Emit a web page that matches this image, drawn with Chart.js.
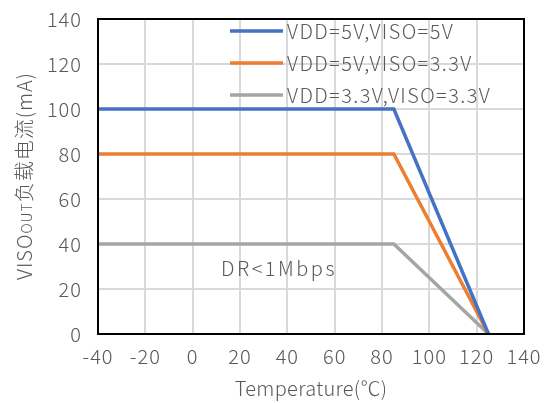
<!DOCTYPE html>
<html>
<head>
<meta charset="utf-8">
<script src="https://cdn.jsdelivr.net/npm/chart.js@4/dist/chart.umd.min.js"></script>
<style>
  html, body { margin: 0; padding: 0; background: #fff; }
  #wrap { width: 555px; height: 403px; }
</style>
</head>
<body>
<div id="wrap"><canvas id="chartCorriente"></canvas></div>
<script>
// datos
const temps = [-40, 85, 125];
const serieLabels = ['VDD=5V,VISO=5V', 'VDD=5V,VISO=3.3V', 'VDD=3.3V,VISO=3.3V'];
const serie5v5v = [100, 100, 0];
const serie5v33v = [80, 80, 0];
const serie33v33v = [40, 40, 0];
const serieColors = ['#4472C4', '#ED7D31', '#A5A5A5'];
const xTicks = [-40, -20, 0, 20, 40, 60, 80, 100, 120, 140];
const yTicks = [0, 20, 40, 60, 80, 100, 120, 140];

const textColor = '#595959';
const fontNum = '"Noto Sans CJK SC", "Noto Sans", sans-serif';

function toPoints(vals) {
  return temps.map((t, i) => ({ x: t, y: vals[i] }));
}

// marco negro, leyenda, nota y títulos de ejes
const extras = {
  id: 'extras',
  beforeDraw(chart) {
    // espaciado de letras para las etiquetas de los ejes
    chart.ctx.letterSpacing = '1px';
  },
  afterDraw(chart) {
    const ctx = chart.ctx;
    const a = chart.chartArea;
    const xs = chart.scales.x, ys = chart.scales.y;
    ctx.save();
    ctx.strokeStyle = '#000';
    ctx.lineWidth = 2;
    ctx.strokeRect(a.left, a.top, a.right - a.left, a.bottom - a.top);

    // leyenda
    ctx.font = '300 20px ' + fontNum;
    ctx.letterSpacing = '1.4px';
    ctx.textBaseline = 'middle';
    ctx.textAlign = 'left';
    chart.data.datasets.forEach((ds, i) => {
      const y = 31 + i * 32;
      ctx.strokeStyle = ds.borderColor;
      ctx.lineWidth = 3.5;
      ctx.beginPath();
      ctx.moveTo(230, y);
      ctx.lineTo(283, y);
      ctx.stroke();
      ctx.fillStyle = textColor;
      ctx.fillText(ds.label, 287, y);
    });

    // nota
    ctx.fillStyle = textColor;
    ctx.letterSpacing = '2.5px';
    ctx.fillText('DR<1Mbps', xs.getPixelForValue(12), ys.getPixelForValue(29));

    // título eje x
    ctx.letterSpacing = '0.3px';
    ctx.textAlign = 'center';
    ctx.fillText('Temperature(℃)', (a.left + a.right) / 2, 388);

    // título eje y (con "OUT" más pequeño)
    ctx.letterSpacing = '1px';
    ctx.translate(25, 176);
    ctx.rotate(-Math.PI / 2);
    const parts = [['VISO', 20], ['OUT', 14], ['负载电流(mA)', 20]];
    let total = 0;
    parts.forEach(p => { ctx.font = '300 ' + p[1] + 'px ' + fontNum; total += ctx.measureText(p[0]).width; });
    let x = -total / 2;
    ctx.textAlign = 'left';
    ctx.textBaseline = 'alphabetic';
    parts.forEach(p => {
      ctx.font = '300 ' + p[1] + 'px ' + fontNum;
      ctx.fillText(p[0], x, 7);
      x += ctx.measureText(p[0]).width;
    });
    ctx.restore();
  }
};

const ctx = document.getElementById('chartCorriente');
new Chart(ctx, {
  type: 'scatter',
  data: {
    datasets: [serie5v5v, serie5v33v, serie33v33v].map((vals, i) => ({
      label: serieLabels[i],
      data: toPoints(vals),
      showLine: true,
      borderColor: serieColors[i],
      backgroundColor: serieColors[i],
      borderWidth: 3.5,
      pointRadius: 0,
      tension: 0
    }))
  },
  options: {
    responsive: true,
    maintainAspectRatio: false,
    animation: false,
    layout: { padding: { top: 19, right: 31, left: 0, bottom: 0 } },
    plugins: {
      legend: { display: false },
      tooltip: { enabled: false }
    },
    scales: {
      x: {
        type: 'linear',
        min: -40,
        max: 140,
        afterBuildTicks: s => { s.ticks = xTicks.map(v => ({ value: v })); },
        afterFit: s => { s.height = 69; s.paddingLeft = 0; s.paddingRight = 0; },
        grid: { color: '#d9d9d9', lineWidth: 2, drawTicks: false },
        border: { display: true, color: '#A5A5A5', width: 2 },
        ticks: { color: textColor, font: { family: fontNum, size: 20, weight: 300 }, padding: 10, maxRotation: 0 }
      },
      y: {
        min: 0,
        max: 140,
        afterBuildTicks: s => { s.ticks = yTicks.map(v => ({ value: v })); },
        afterFit: s => { s.width = 98; s.paddingTop = 0; s.paddingBottom = 0; },
        grid: { color: '#d9d9d9', lineWidth: 2, drawTicks: false },
        border: { display: true, color: '#000', width: 2 },
        ticks: { color: textColor, font: { family: fontNum, size: 20, weight: 300 }, padding: 16 }
      }
    }
  },
  plugins: [extras]
});
</script>
</body>
</html>
